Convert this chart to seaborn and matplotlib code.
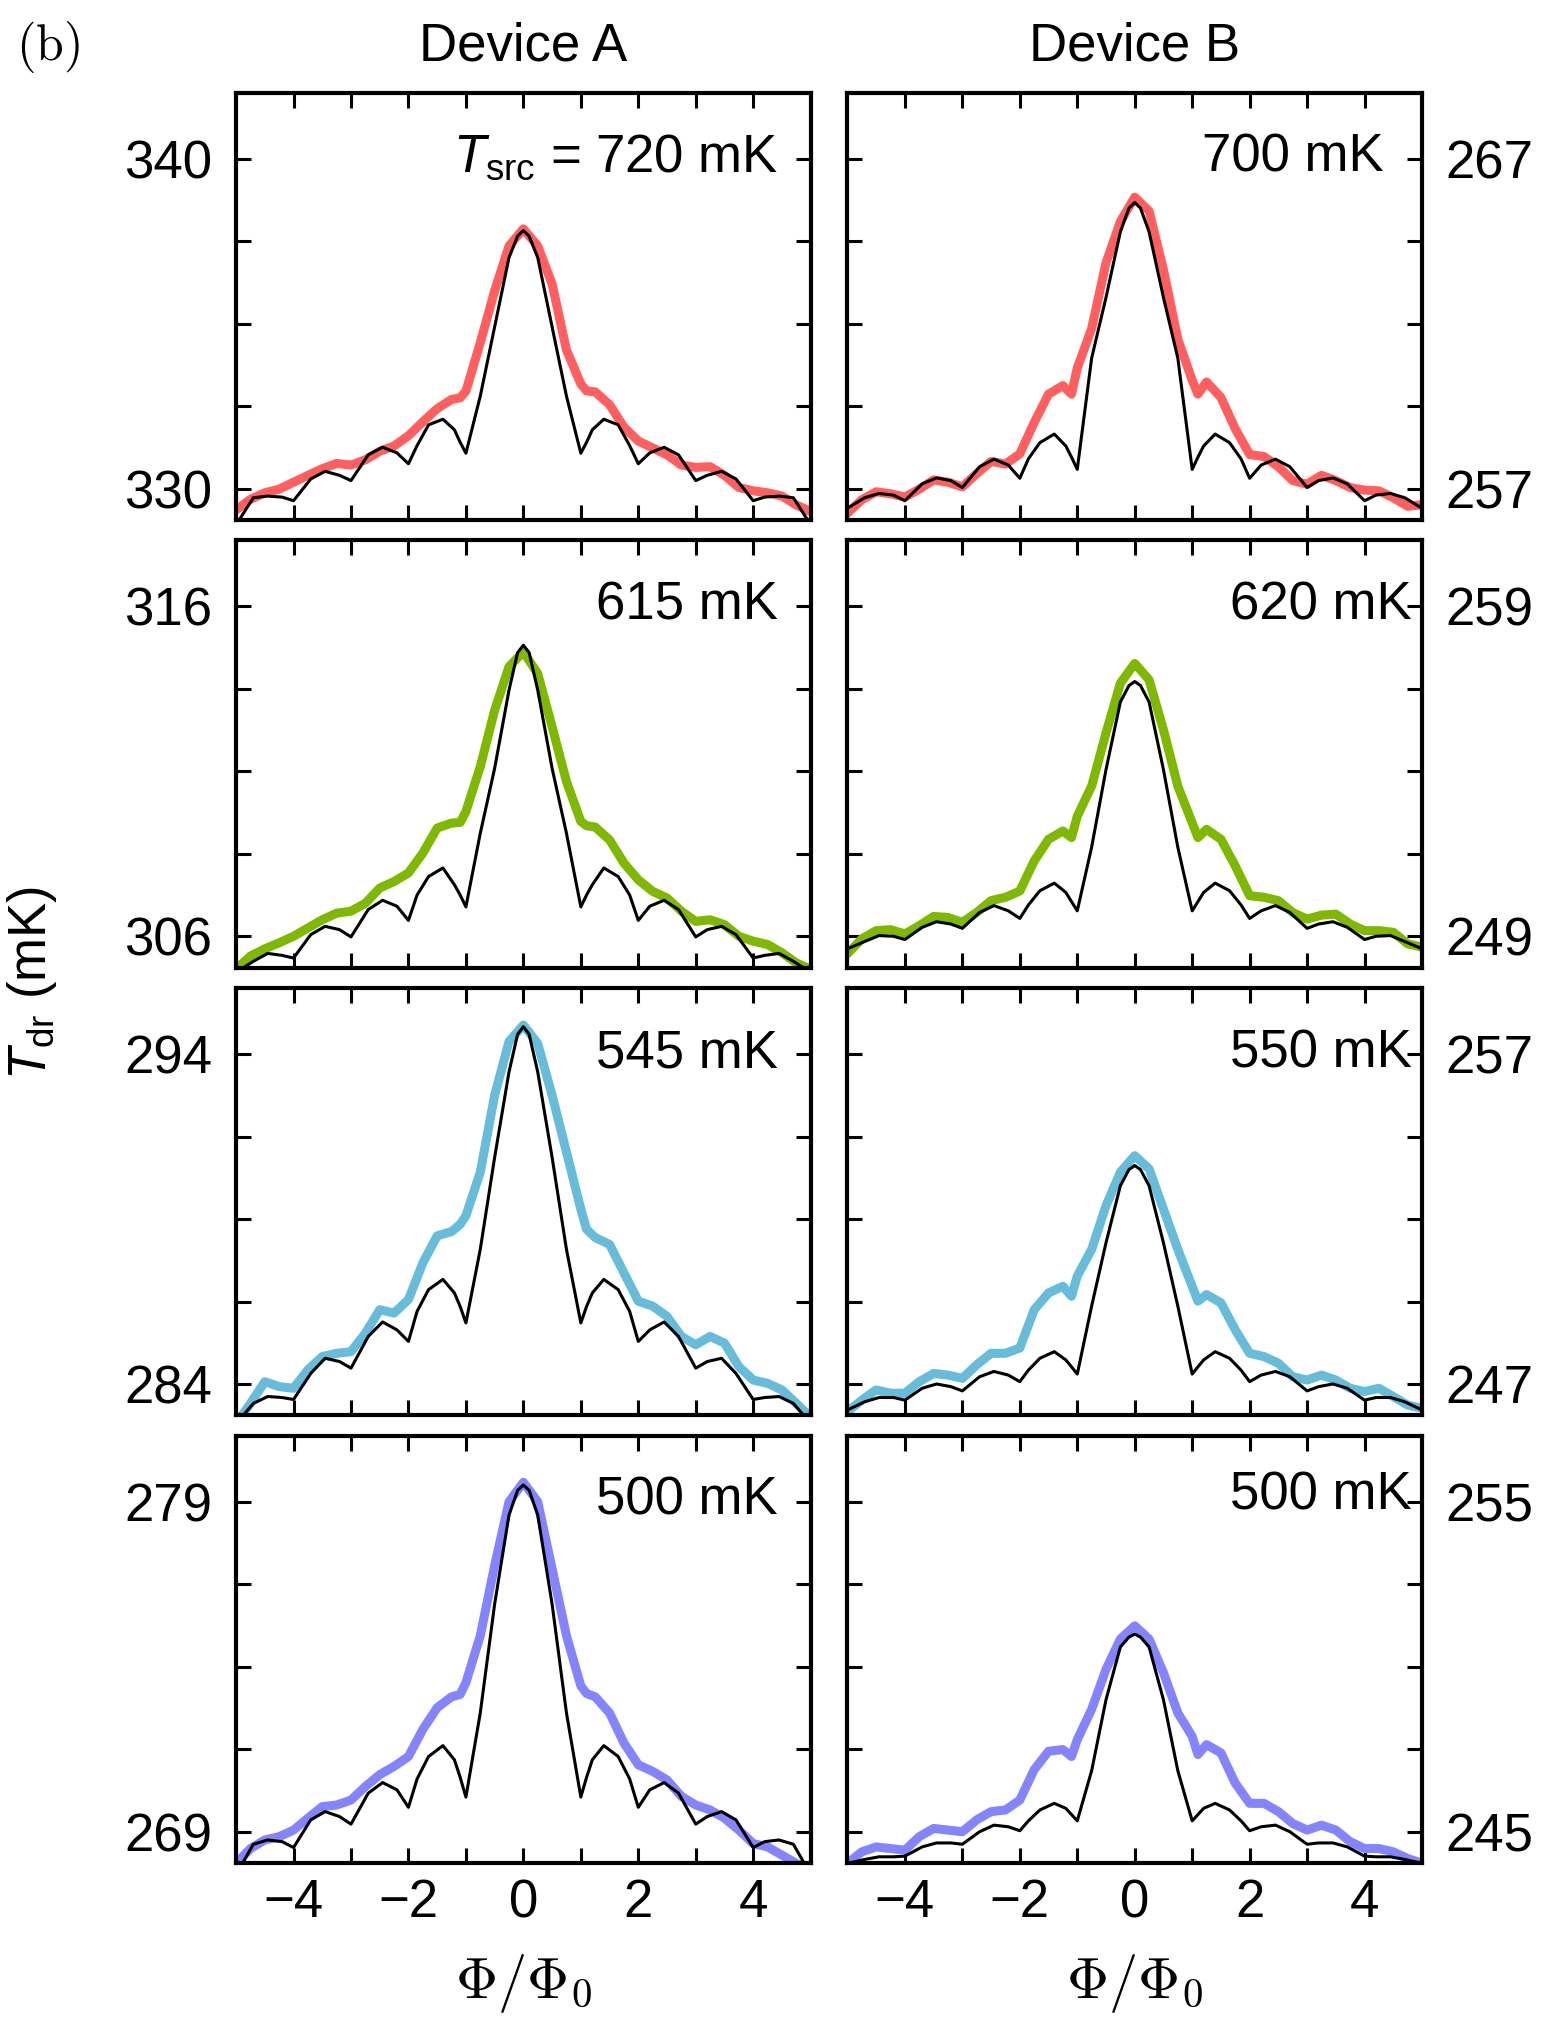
import numpy as np
import matplotlib
matplotlib.use('Agg')
import matplotlib.pyplot as plt
import seaborn as sns

# flux axis for measured curves and for the thin model curves
phi_meas = [-5, -4.75, -4.5, -4.25, -4, -3.75, -3.5, -3.25, -3, -2.75, -2.5, -2.25,
            -2, -1.75, -1.5, -1.25, -1.1, -1, -0.75, -0.5, -0.25, 0, 0.25, 0.5, 0.75,
            1, 1.1, 1.25, 1.5, 1.75, 2, 2.25, 2.5, 2.75, 3, 3.25, 3.5, 3.75, 4, 4.25,
            4.5, 4.75, 5]
phi_model = [-5, -4.7, -4.45, -4.2, -4, -3.7, -3.45, -3.2, -3, -2.7, -2.45, -2.2,
             -2, -1.85, -1.65, -1.4, -1.2, -1.1, -1, -0.75, -0.5, -0.25, -0.1, 0,
             0.1, 0.25, 0.5, 0.75, 1, 1.1, 1.2, 1.4, 1.65, 1.85, 2, 2.2, 2.45, 2.7,
             3, 3.2, 3.45, 3.7, 4, 4.2, 4.45, 4.7, 5]

# Device A measured T_dr (mK)
meas_A720 = [329.35, 329.67, 329.87, 329.98, 330.19, 330.40, 330.60, 330.76, 330.71, 330.87,
             331.13, 331.29, 331.60, 332.02, 332.42, 332.70, 332.75, 332.95, 334.42, 335.99,
             337.35, 337.87, 337.35, 336.20, 334.20, 333.17, 332.96, 332.93, 332.54, 331.86,
             331.44, 331.23, 331.02, 330.71, 330.64, 330.66, 330.40, 330.03, 329.93, 329.87,
             329.77, 329.50, 329.30]
meas_A615 = [305.0, 305.4, 305.62, 305.8, 306.0, 306.25, 306.5, 306.7, 306.76, 307.0,
             307.46, 307.66, 307.92, 308.52, 309.28, 309.43, 309.45, 309.78, 311.14, 312.85,
             314.17, 314.62, 313.96, 312.35, 310.69, 309.48, 309.35, 309.31, 308.92, 308.22,
             307.71, 307.36, 307.16, 306.76, 306.45, 306.5, 306.35, 306.0, 305.85, 305.75,
             305.5, 305.19, 305.0]
meas_A545 = [282.8, 283.41, 284.07, 283.92, 283.87, 284.43, 284.83, 284.93, 284.98, 285.54,
             286.25, 286.15, 286.56, 287.67, 288.49, 288.62, 288.84, 289.1, 290.42, 292.75,
             294.38, 294.88, 294.32, 292.75, 291.03, 289.3, 288.69, 288.44, 288.23, 287.37,
             286.51, 286.36, 286.05, 285.44, 285.19, 285.44, 285.24, 284.53, 284.12, 284.02,
             283.82, 283.41, 283.0]
meas_A500 = [268.04, 268.49, 268.75, 268.85, 269.05, 269.41, 269.76, 269.81, 269.96, 270.37,
             270.73, 270.98, 271.28, 272.1, 272.76, 273.09, 273.16, 273.52, 274.94, 277.07,
             279.0, 279.59, 279.0, 276.97, 274.94, 273.42, 273.19, 273.09, 272.6, 271.69,
             271.03, 270.83, 270.57, 270.07, 269.81, 269.66, 269.41, 269.05, 268.64, 268.54,
             268.29, 268.04, 267.83]

# Device B measured T_dr (mK)
meas_B700 = [256.25, 256.66, 256.90, 256.84, 256.74, 256.98, 257.26, 257.19, 257.05, 257.45,
             257.82, 257.74, 258.05, 259.0, 259.86, 260.12, 259.86, 260.65, 261.85, 263.84,
             265.09, 265.83, 265.41, 263.63, 261.53, 260.28, 259.86, 260.23, 259.76, 258.81,
             258.03, 257.97, 257.66, 257.24, 257.13, 257.40, 257.24, 257.03, 256.95, 256.93,
             256.72, 256.46, 256.51]
meas_B620 = [248.47, 248.92, 249.17, 249.2, 249.07, 249.32, 249.6, 249.57, 249.42, 249.72,
             250.08, 250.18, 250.37, 251.28, 251.94, 252.19, 251.99, 252.64, 253.55, 255.16,
             256.67, 257.27, 256.77, 255.26, 253.55, 252.44, 251.99, 252.24, 251.94, 251.13,
             250.23, 250.18, 250.08, 249.72, 249.52, 249.64, 249.67, 249.37, 249.17, 249.17,
             249.12, 248.77, 248.67]
meas_B550 = [246.16, 246.51, 246.82, 246.72, 246.72, 247.07, 247.32, 247.27, 247.17, 247.58,
             247.93, 247.93, 248.09, 249.25, 249.76, 249.96, 249.66, 250.27, 251.08, 252.4,
             253.42, 253.92, 253.52, 252.3, 251.08, 249.96, 249.51, 249.71, 249.46, 248.64,
             247.93, 247.83, 247.63, 247.22, 247.12, 247.27, 247.12, 246.87, 246.77, 246.87,
             246.62, 246.36, 246.26]
meas_B500 = [244.04, 244.39, 244.54, 244.49, 244.44, 244.85, 245.1, 245.05, 245.0, 245.36,
             245.61, 245.66, 245.96, 246.88, 247.44, 247.49, 247.28, 247.79, 248.71, 249.92,
             250.84, 251.24, 250.84, 249.82, 248.6, 247.89, 247.34, 247.64, 247.39, 246.47,
             245.86, 245.86, 245.61, 245.25, 245.05, 245.2, 245.05, 244.7, 244.49, 244.49,
             244.39, 244.19, 244.04]

# model curves (thin black)
model_A720 = [328.9, 329.72, 329.77, 329.74, 329.63, 330.29, 330.52, 330.40, 330.24, 331.02,
              331.25, 331.08, 330.75, 331.3, 331.93, 332.1, 331.78, 331.4, 331.07, 332.8,
              334.9, 337.0, 337.65, 337.82, 337.65, 337.0, 334.9, 332.8, 331.07, 331.4,
              331.78, 332.1, 331.93, 331.3, 330.75, 331.08, 331.25, 331.02, 330.24, 330.40,
              330.52, 330.29, 329.63, 329.74, 329.77, 329.72, 328.9]
model_A615 = [304.9, 305.24, 305.48, 305.42, 305.34, 306.05, 306.30, 306.20, 305.98, 306.81,
              307.09, 306.91, 306.48, 307.25, 307.81, 308.07, 307.56, 307.25, 306.89, 309.12,
              311.09, 313.46, 314.6, 314.82, 314.6, 313.46, 311.09, 309.12, 306.89, 307.25,
              307.56, 308.07, 307.81, 307.25, 306.48, 306.91, 307.09, 306.81, 305.98, 306.20,
              306.30, 306.05, 305.34, 305.42, 305.48, 305.24, 304.9]
model_A545 = [282.8, 283.41, 283.62, 283.59, 283.53, 284.32, 284.78, 284.68, 284.48, 285.44,
              285.88, 285.64, 285.29, 286.2, 286.86, 287.17, 286.76, 286.35, 285.85, 288.08,
              290.87, 293.46, 294.6, 294.83, 294.6, 293.46, 290.87, 288.08, 285.85, 286.35,
              286.76, 287.17, 286.86, 286.2, 285.29, 285.64, 285.88, 285.44, 284.48, 284.68,
              284.78, 284.32, 283.53, 283.59, 283.62, 283.41, 282.8]
model_A500 = [267.7, 268.62, 268.75, 268.70, 268.52, 269.36, 269.61, 269.46, 269.23, 270.17,
              270.49, 270.27, 269.74, 270.6, 271.28, 271.61, 271.18, 270.65, 270.05, 272.6,
              275.9, 278.6, 279.35, 279.51, 279.35, 278.6, 275.9, 272.6, 270.05, 270.65,
              271.18, 271.61, 271.28, 270.6, 269.74, 270.27, 270.49, 270.17, 269.23, 269.46,
              269.61, 269.36, 268.52, 268.70, 268.75, 268.62, 267.7]
model_B700 = [256.40, 256.72, 256.85, 256.80, 256.63, 257.14, 257.32, 257.24, 257.03, 257.66,
              257.89, 257.71, 257.31, 257.9, 258.39, 258.65, 258.29, 257.95, 257.58, 260.95,
              262.79, 264.78, 265.5, 265.67, 265.5, 264.78, 262.79, 260.95, 257.58, 257.95,
              258.29, 258.65, 258.39, 257.9, 257.31, 257.71, 257.89, 257.66, 257.03, 257.24,
              257.32, 257.14, 256.63, 256.80, 256.85, 256.72, 256.40]
model_B620 = [248.62, 248.84, 249.02, 249.0, 248.9, 249.27, 249.44, 249.37, 249.24, 249.72,
              249.93, 249.77, 249.54, 249.95, 250.38, 250.61, 250.33, 250.05, 249.77, 251.7,
              254.05, 256.1, 256.6, 256.72, 256.6, 256.1, 254.05, 251.7, 249.77, 250.05,
              250.33, 250.61, 250.38, 249.95, 249.54, 249.77, 249.93, 249.72, 249.24, 249.37,
              249.44, 249.27, 248.9, 249.0, 249.02, 248.84, 248.62]
model_B550 = [246.21, 246.46, 246.59, 246.59, 246.51, 246.87, 247.0, 246.92, 246.79, 247.22,
              247.38, 247.27, 247.07, 247.42, 247.78, 247.98, 247.73, 247.52, 247.3, 249.36,
              251.28, 253.01, 253.5, 253.62, 253.5, 253.01, 251.28, 249.36, 247.3, 247.52,
              247.73, 247.98, 247.78, 247.42, 247.07, 247.27, 247.38, 247.22, 246.79, 246.92,
              247.0, 246.87, 246.51, 246.59, 246.59, 246.46, 246.21]
model_B500 = [244.04, 244.16, 244.24, 244.24, 244.26, 244.54, 244.66, 244.66, 244.62, 245.0,
              245.2, 245.15, 245.03, 245.33, 245.66, 245.86, 245.71, 245.52, 245.33, 246.85,
              249.0, 250.6, 250.9, 250.99, 250.9, 250.6, 249.0, 246.85, 245.33, 245.52,
              245.71, 245.86, 245.66, 245.33, 245.03, 245.15, 245.2, 245.0, 244.62, 244.66,
              244.66, 244.54, 244.26, 244.24, 244.24, 244.16, 244.04]

# labelled y ticks per panel (lower, upper)
ticks_A = [(330, 340), (306, 316), (284, 294), (269, 279)]
ticks_B = [(257, 267), (249, 259), (247, 257), (245, 255)]
labels_A = [r'$T_{\rm src}$ = 720 mK', '615 mK', '545 mK', '500 mK']
labels_B = ['700 mK', '620 mK', '550 mK', '500 mK']
colors = ['#FF5F5F', '#7FB800', '#66BCD9', '#8484FF']

meas_A = [meas_A720, meas_A615, meas_A545, meas_A500]
meas_B = [meas_B700, meas_B620, meas_B550, meas_B500]
model_A = [model_A720, model_A615, model_A545, model_A500]
model_B = [model_B700, model_B620, model_B550, model_B500]

sns.set_style('ticks')
plt.rcParams['font.family'] = ['Liberation Sans', 'DejaVu Sans']
plt.rcParams['mathtext.fontset'] = 'custom'
plt.rcParams['mathtext.rm'] = 'Liberation Sans'
plt.rcParams['mathtext.it'] = 'Liberation Sans:italic'
for key in ['text.color', 'axes.labelcolor', 'xtick.color', 'ytick.color', 'axes.edgecolor']:
    plt.rcParams[key] = 'black'

FS = 38

fig, axes = plt.subplots(4, 2, figsize=(15.45, 20.22), dpi=100)
fig.subplots_adjust(left=0.1528, right=0.9204, top=0.9542, bottom=0.0786,
                    hspace=0.048, wspace=0.064)

for row in range(4):
    for col in range(2):
        ax = axes[row, col]
        if col == 0:
            meas, model, (lo, hi), lab = meas_A[row], model_A[row], ticks_A[row], labels_A[row]
            lab_x = 0.943
        else:
            meas, model, (lo, hi), lab = meas_B[row], model_B[row], ticks_B[row], labels_B[row]
            lab_x = 0.934 if row == 0 else 0.982
        sns.lineplot(x=phi_meas, y=meas, ax=ax, color=colors[row], linewidth=6.5,
                     solid_joinstyle='round', solid_capstyle='round')
        sns.lineplot(x=phi_model, y=model, ax=ax, color='black', linewidth=2.2,
                     solid_joinstyle='round')
        ax.set_xlim(-5, 5)
        ax.set_ylim(lo - 0.95, hi + 2.0)
        ax.set_xticks([-4, -2, 0, 2, 4])
        ax.set_xticks([-3, -1, 1, 3], minor=True)
        ax.set_yticks([lo, hi])
        ax.set_yticks([lo + 2.5, lo + 5, lo + 7.5], minor=True)
        ax.set_xlabel('')
        ax.set_ylabel('')
        ax.tick_params(which='both', direction='in', top=True, right=True,
                       length=11, width=2.2, labelsize=FS, pad=17)
        ax.tick_params(axis='x', which='both', pad=11)
        ax.tick_params(axis='y', labelleft=(col == 0), labelright=(col == 1))
        if row < 3:
            ax.tick_params(axis='x', labelbottom=False)
        for sp in ax.spines.values():
            sp.set_linewidth(3.0)
            sp.set_color('black')
        lab_y = 0.828 if (col == 1 and row == 3) else 0.815
        ax.text(lab_x, lab_y, lab, transform=ax.transAxes, ha='right',
                va='baseline', fontsize=FS)

# column titles and axis labels
for col, name in enumerate(['Device A', 'Device B']):
    pos = axes[0, col].get_position()
    fig.text((pos.x0 + pos.x1) / 2, 0.977, name, ha='center', va='center', fontsize=FS)
    pos = axes[3, col].get_position()
    fig.text((pos.x0 + pos.x1) / 2, 0.012, r'$\Phi/\Phi_0$', ha='center', va='baseline',
             fontsize=42, math_fontfamily='cm')

fig.text(0.021, 0.514, r'$T_{\rm dr}$ (mK)', rotation=90, ha='center', va='center',
         fontsize=FS)
fig.text(0.031, 0.977, r'$\mathrm{(b)}$', ha='center', va='center', fontsize=36,
         math_fontfamily='cm')

fig.savefig('out.png', dpi=100)
